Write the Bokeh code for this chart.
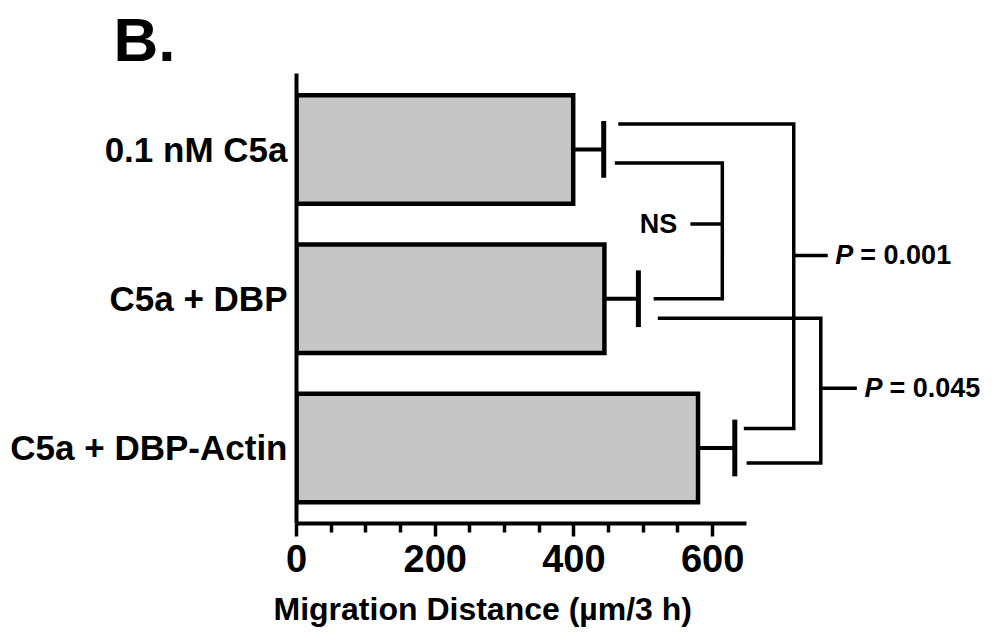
from bokeh.plotting import figure
from bokeh.models import Range1d, FixedTicker, Title, ColumnDataSource
from bokeh.core.properties import value
from bokeh.embed import file_html
from bokeh.resources import INLINE

# ---- data ----
categories = ["0.1 nM C5a", "C5a + DBP", "C5a + DBP-Actin"]
migration = [399, 444, 579]
sem = [44, 49, 53]
x_major = [0, 200, 400, 600]
x_minor = [50, 100, 150, 250, 300, 350, 450, 500, 550]
x_title = "Migration Distance (µm/3 h)"
panel_letter = "B."

# significance brackets (data units)
comp_text = ["NS", "= 0.001", "= 0.045"]
bracket_x = [614, 717, 756]
arm1_y = [0.09, -0.17, 1.13]
arm2_y = [1.00, 1.87, 2.10]
arm1_x = [459, 464, 521]
arm2_x = [515, 645, 649]
tick_y = [0.50, 0.71, 1.60]
tick_x = [568, 766, 808]

FONT = "Liberation Sans"
idx = list(range(len(categories)))

p = figure(width=992, height=642, output_backend="svg", toolbar_location=None,
           x_range=Range1d(0, 1003.6), y_range=Range1d(2.506, -0.509),
           min_border_left=296, min_border_right=0, min_border_top=73,
           min_border_bottom=119)
p.outline_line_color = None
p.xgrid.visible = False
p.ygrid.visible = False
p.background_fill_color = "white"

# panel letter as title
p.title.text = panel_letter
p.title.text_font = FONT
p.title.text_font_style = "bold"
p.title.text_font_size = "62px"
p.title.align = "left"
p.title.offset = -183
p.title.standoff = 0
p.title.text_color = "black"

# bars + error bars
src = ColumnDataSource(dict(y=idx, right=migration,
                            err_end=[m + s for m, s in zip(migration, sem)],
                            cap_lo=[i - 0.19 for i in idx],
                            cap_hi=[i + 0.19 for i in idx]))
p.segment(x0="right", x1="err_end", y0="y", y1="y", source=src,
          line_color="black", line_width=4)
p.segment(x0="err_end", x1="err_end", y0="cap_lo", y1="cap_hi", source=src,
          line_color="black", line_width=5)
p.hbar(y="y", left=0, right="right", height=0.727, source=src,
       fill_color="#c6c6c6", line_color="black", line_width=4.5,
       line_join="miter")

# brackets
xs, ys = [], []
for i in range(3):
    xs.append([arm1_x[i], bracket_x[i], bracket_x[i], arm2_x[i]])
    ys.append([arm1_y[i], arm1_y[i], arm2_y[i], arm2_y[i]])
p.multi_line(xs=xs, ys=ys, line_color="black", line_width=3.5,
             line_join="miter")
p.segment(x0=bracket_x, x1=tick_x, y0=tick_y, y1=tick_y,
          line_color="black", line_width=3.5)

# bracket labels
p.text(x=[tick_x[0] - 19], y=[tick_y[0]], text=[comp_text[0]],
       text_font=value(FONT), text_font_style="bold", text_font_size="27px",
       text_align="right", text_baseline="middle", text_color="black")
p.text(x=[tick_x[1] + 11, tick_x[2] + 11], y=[tick_y[1], tick_y[2]],
       text=["P", "P"], text_font=value(FONT),
       text_font_style="bold italic", text_font_size="27px",
       text_align="left", text_baseline="middle", text_color="black")
p.text(x=[tick_x[1] + 47, tick_x[2] + 47], y=[tick_y[1], tick_y[2]],
       text=comp_text[1:], text_font=value(FONT),
       text_font_style="bold", text_font_size="27px",
       text_align="left", text_baseline="middle", text_color="black")

# x axis
xa = p.xaxis[0]
xa.ticker = FixedTicker(ticks=x_major, minor_ticks=x_minor)
xa.bounds = (0, 649)
xa.axis_line_width = 4
xa.axis_line_color = "black"
xa.major_tick_line_width = 3.5
xa.minor_tick_line_width = 3.5
xa.major_tick_out = 13
xa.major_tick_in = 0
xa.minor_tick_out = 9
xa.minor_tick_in = 0
xa.major_label_text_font = FONT
xa.major_label_text_font_style = "bold"
xa.major_label_text_font_size = "38px"
xa.major_label_text_color = "black"
xa.major_label_standoff = 8

# x-axis title, placed under the axis as in the reference
p.add_layout(Title(text=x_title, align="left", offset=-23, standoff=28,
                   text_font=FONT, text_font_style="bold",
                   text_font_size="32px", text_color="black"), "below")

# y axis
ya = p.yaxis[0]
ya.ticker = FixedTicker(ticks=idx)
ya.major_label_overrides = {i: c for i, c in zip(idx, categories)}
ya.axis_line_width = 4
ya.axis_line_color = "black"
ya.major_tick_out = 0
ya.major_tick_in = 0
ya.minor_tick_out = 0
ya.minor_tick_in = 0
ya.major_label_text_font = FONT
ya.major_label_text_font_style = "bold"
ya.major_label_text_font_size = "35px"
ya.major_label_text_color = "black"
ya.major_label_standoff = 9

open("out.html", "w").write(file_html(p, INLINE))
